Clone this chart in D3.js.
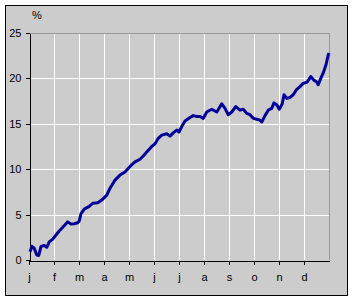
<!DOCTYPE html>
<html>
<head>
<meta charset="utf-8">
<script src="https://cdn.jsdelivr.net/npm/d3@7"></script>
<style>
  body { margin: 0; background: #fff; }
  svg text { font-family: "Liberation Sans", Arial, sans-serif; font-size: 11px; fill: #000; }
</style>
</head>
<body>
<div id="app"></div>
<script>
const monthLabels = ["j", "f", "m", "a", "m", "j", "j", "a", "s", "o", "n", "d"];
const yTicks = [0, 5, 10, 15, 20, 25];

// position along the year, in months (0 = start of jan, 12 = end of dec)
const t = [0.04, 0.12, 0.21, 0.31, 0.39, 0.48, 0.61, 0.71, 0.81, 0.95,
  1.08, 1.21, 1.35, 1.48, 1.55, 1.68, 1.81, 1.95, 2.01, 2.08,
  2.21, 2.41, 2.55, 2.75, 2.91, 3.11, 3.24, 3.44, 3.64, 3.84,
  4.04, 4.24, 4.44, 4.57, 4.71, 4.91, 5.04, 5.17, 5.31, 5.51,
  5.64, 5.77, 5.91, 6.00, 6.11, 6.24, 6.44, 6.57, 6.71, 6.84,
  6.97, 7.11, 7.31, 7.51, 7.71, 7.84, 7.97, 8.11, 8.27, 8.44,
  8.57, 8.71, 8.84, 8.97, 9.11, 9.24, 9.31, 9.44, 9.57, 9.71,
  9.80, 9.91, 10.01, 10.13, 10.20, 10.31, 10.44, 10.57, 10.71, 10.84,
  10.97, 11.13, 11.27, 11.40, 11.51, 11.57, 11.67, 11.77, 11.88, 11.97, 12.0];
const pct = [0.9, 1.5, 1.3, 0.55, 0.5, 1.5, 1.6, 1.4, 2.0, 2.3,
  2.75, 3.2, 3.6, 4.0, 4.2, 3.95, 4.0, 4.1, 4.3, 5.1,
  5.6, 5.9, 6.25, 6.3, 6.6, 7.15, 7.9, 8.8, 9.35, 9.7,
  10.3, 10.8, 11.1, 11.45, 11.9, 12.5, 12.8, 13.4, 13.75, 13.9,
  13.65, 14.0, 14.3, 14.1, 14.7, 15.3, 15.7, 15.9, 15.8, 15.8,
  15.6, 16.3, 16.6, 16.3, 17.2, 16.7, 16.0, 16.3, 16.9, 16.5,
  16.6, 16.15, 16.0, 15.6, 15.5, 15.4, 15.2, 15.9, 16.5, 16.7,
  17.3, 17.1, 16.6, 17.2, 18.2, 17.8, 17.9, 18.2, 18.8, 19.1,
  19.45, 19.6, 20.2, 19.8, 19.6, 19.3, 20.0, 20.6, 21.5, 22.6, 22.8];

const W = 354, H = 301;
const margin = { top: 33, right: 25, bottom: 41, left: 29 };

const svg = d3.select("#app").append("svg")
  .attr("width", W)
  .attr("height", H);

// chart area with frame
svg.append("rect")
  .attr("x", 5.5).attr("y", 5.5)
  .attr("width", 342).attr("height", 290)
  .attr("fill", "#cccccc")
  .attr("stroke", "#000")
  .attr("stroke-width", 1);

const x = d3.scaleLinear().domain([0, 12]).range([margin.left, W - margin.right]);
const y = d3.scaleLinear().domain([0, 25]).range([H - margin.bottom, margin.top]);

const g = svg.append("g").attr("shape-rendering", "crispEdges");

// gridlines
g.selectAll(".hgrid")
  .data(yTicks.filter(d => d > 0 && d < 25))
  .enter().append("line")
  .attr("x1", x(0)).attr("x2", x(12))
  .attr("y1", d => Math.round(y(d)) + 0.5).attr("y2", d => Math.round(y(d)) + 0.5)
  .attr("stroke", "#fff");

g.selectAll(".vgrid")
  .data(d3.range(1, 12))
  .enter().append("line")
  .attr("x1", d => Math.round(x(d)) + 0.5).attr("x2", d => Math.round(x(d)) + 0.5)
  .attr("y1", y(0)).attr("y2", y(25))
  .attr("stroke", "#fff");

// plot border top/right
g.append("path")
  .attr("d", `M${x(0)},${y(25) + 0.5}H${x(12) + 0.5}V${y(0)}`)
  .attr("fill", "none")
  .attr("stroke", "#999");

// y axis
const yAxis = svg.append("g")
  .attr("transform", `translate(${x(0) + 0.5},0)`)
  .call(d3.axisLeft(y).tickValues(yTicks).tickSize(4).tickPadding(4).tickSizeOuter(0));
yAxis.select(".domain").attr("stroke", "#000");
yAxis.selectAll("text").style("font-size", "11px").attr("font-family", null);

// x axis
const xAxis = svg.append("g")
  .attr("transform", `translate(0,${y(0) + 0.5})`)
  .call(d3.axisBottom(x).tickValues(d3.range(0, 12)).tickSize(4).tickPadding(9).tickSizeOuter(0)
    .tickFormat(i => monthLabels[i]));
xAxis.selectAll("text").style("font-size", "11px").attr("font-family", null);

svg.selectAll(".domain, .tick line").attr("shape-rendering", "crispEdges");

// unit label
svg.append("text")
  .attr("x", 32).attr("y", 19)
  .text("%");

// line
const line = d3.line()
  .x((d, i) => x(t[i]))
  .y(d => y(d));

svg.append("path")
  .datum(pct)
  .attr("fill", "none")
  .attr("stroke", "#000099")
  .attr("stroke-width", 3)
  .attr("stroke-linejoin", "round")
  .attr("d", line);
</script>
</body>
</html>
